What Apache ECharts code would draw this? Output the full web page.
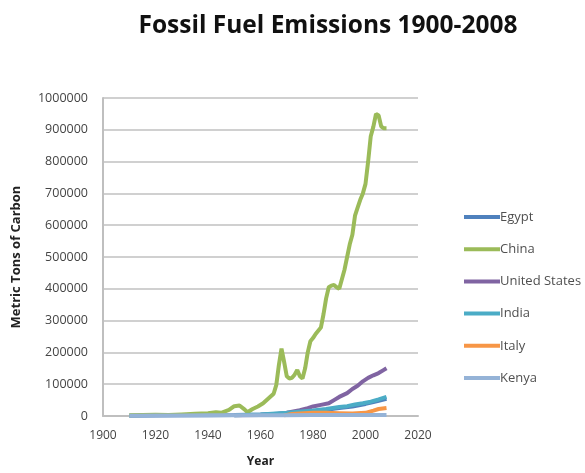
<!DOCTYPE html>
<html>
<head>
<meta charset="utf-8">
<script src="https://cdn.jsdelivr.net/npm/echarts@6/dist/echarts.min.js"></script>
<style>html,body{margin:0;padding:0;background:#fff;}#c{width:585px;height:473px;}</style>
</head>
<body>
<div id="c"></div>
<script>
var seriesNames = ['Egypt', 'China', 'United States', 'India', 'Italy', 'Kenya'];
var seriesColors = ['#4F81BD', '#9BBB59', '#8064A2', '#4BACC6', '#F79646', '#95B3D7'];
var xTicks = [1900, 1920, 1940, 1960, 1980, 2000, 2020];
var yTicks = [0, 100000, 200000, 300000, 400000, 500000, 600000, 700000, 800000, 900000, 1000000];

var egyptYears = [1910, 1920, 1930, 1940, 1950, 1960, 1970, 1975, 1980, 1985, 1990, 1995, 2000, 2003, 2005, 2008];
var egyptValues = [1000, 1500, 2000, 2500, 3500, 5000, 8000, 11000, 15000, 20000, 25000, 30000, 38000, 44000, 48000, 54000];

var chinaYears = [1910, 1915, 1920, 1925, 1930, 1935, 1940, 1943, 1945, 1948, 1950, 1952, 1954, 1955, 1957, 1959, 1961, 1963, 1965, 1966, 1967, 1968, 1969, 1970, 1971, 1972, 1973, 1974, 1975, 1976, 1977, 1978, 1979, 1980, 1981, 1982, 1983, 1984, 1985, 1986, 1987, 1988, 1989, 1990, 1991, 1992, 1993, 1994, 1995, 1996, 1997, 1998, 1999, 2000, 2001, 2002, 2003, 2004, 2005, 2006, 2007, 2008];
var chinaValues = [2000, 3000, 4000, 3000, 5000, 7000, 9000, 12000, 10000, 19000, 31000, 33000, 20000, 12000, 22000, 30000, 40000, 55000, 70000, 97000, 160000, 212000, 170000, 125000, 118000, 120000, 130000, 145000, 125000, 118000, 150000, 200000, 235000, 245000, 258000, 268000, 278000, 320000, 370000, 405000, 410000, 412000, 405000, 400000, 430000, 460000, 500000, 540000, 570000, 630000, 655000, 680000, 700000, 730000, 800000, 880000, 910000, 950000, 945000, 910000, 905000, 905000];

var usYears = [1950, 1960, 1965, 1970, 1975, 1978, 1980, 1983, 1986, 1988, 1990, 1993, 1995, 1997, 1999, 2001, 2003, 2005, 2007, 2008];
var usValues = [2000, 3000, 5000, 10000, 18000, 25000, 30000, 35000, 40000, 50000, 60000, 72000, 85000, 95000, 109000, 120000, 128000, 135000, 145000, 150000];

var indiaYears = [1950, 1960, 1970, 1980, 1985, 1990, 1993, 1996, 1999, 2002, 2005, 2008];
var indiaValues = [2000, 5000, 10000, 17000, 22000, 28000, 31000, 36000, 40000, 45000, 52000, 60000];

var italyYears = [1969, 1972, 1975, 1980, 1985, 1990, 1995, 2000, 2003, 2005, 2008];
var italyValues = [2000, 6000, 8000, 10000, 10000, 9000, 8000, 10000, 17000, 22000, 25000];

var kenyaYears = [1910, 1920, 1930, 1940, 1950, 1960, 1970, 1980, 1990, 2000, 2008];
var kenyaValues = [1000, 1500, 1500, 2000, 2000, 2500, 2500, 3000, 3000, 3000, 3500];

function pairs(xs, ys) { return xs.map(function (x, i) { return [x, ys[i]]; }); }
var allYears = [egyptYears, chinaYears, usYears, indiaYears, italyYears, kenyaYears];
var allValues = [egyptValues, chinaValues, usValues, indiaValues, italyValues, kenyaValues];

var chart = echarts.init(document.getElementById('c'));
chart.setOption({
  animation: false,
  backgroundColor: '#ffffff',
  title: {
    text: 'Fossil Fuel Emissions 1900-2008',
    left: 323, top: 9, textAlign: 'center',
    textStyle: { fontFamily: 'Open Sans', fontWeight: 'bold', fontSize: 24.5, color: '#111' }
  },
  legend: {
    orient: 'vertical', left: 459, top: 205,
    itemWidth: 36, itemHeight: 4, itemGap: 18.2,
    icon: 'rect',
    textStyle: { fontFamily: 'Open Sans', fontSize: 13, lineHeight: 14, color: '#505050', padding: [0, 0, 0, -5] },
    data: seriesNames
  },
  grid: { left: 103, right: 167, top: 98, bottom: 55, containLabel: false },
  xAxis: {
    type: 'value', min: xTicks[0], max: xTicks[xTicks.length - 1], interval: 20,
    name: 'Year', nameLocation: 'middle', nameGap: 40,
    nameTextStyle: { fontFamily: 'Open Sans', fontWeight: 'bold', fontSize: 12, color: '#222' },
    axisLine: { lineStyle: { color: '#bfbfbf', width: 2 } },
    axisTick: { show: false },
    splitLine: { show: false },
    axisLabel: { fontFamily: 'Open Sans', fontSize: 12, color: '#444', margin: 14, formatter: function (v) { return String(v); } }
  },
  yAxis: {
    type: 'value', min: yTicks[0], max: yTicks[yTicks.length - 1], interval: 100000,
    name: 'Metric Tons of Carbon', nameLocation: 'middle', nameGap: 80,
    nameTextStyle: { fontFamily: 'Open Sans', fontWeight: 'bold', fontSize: 13, color: '#222' },
    axisLine: { show: true, lineStyle: { color: '#bfbfbf', width: 2 } },
    axisTick: { show: false },
    splitLine: { lineStyle: { color: '#d0d0d0', width: 2 } },
    axisLabel: { fontFamily: 'Open Sans', fontSize: 12.5, color: '#444', margin: 15, formatter: function (v) { return String(v); } }
  },
  series: seriesNames.map(function (n, i) {
    return {
      name: n, type: 'line', showSymbol: false, symbol: 'none',
      data: pairs(allYears[i], allValues[i]),
      lineStyle: { width: 4, color: seriesColors[i] },
      itemStyle: { color: seriesColors[i] }
    };
  })
});
</script>
</body>
</html>
